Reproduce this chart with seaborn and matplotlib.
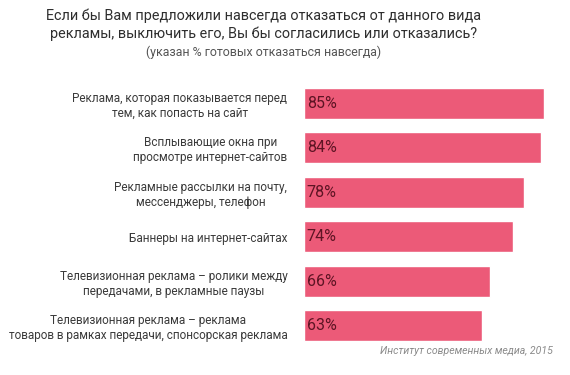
import matplotlib
matplotlib.use("Agg")
import matplotlib.pyplot as plt
import seaborn as sns
import pandas as pd

categories = [
    "Реклама, которая показывается перед\nтем, как попасть на сайт",
    "Всплывающие окна при\nпросмотре интернет-сайтов",
    "Рекламные рассылки на почту,\nмессенджеры, телефон",
    "Баннеры на интернет-сайтах",
    "Телевизионная реклама – ролики между\nпередачами, в рекламные паузы",
    "Телевизионная реклама – реклама\nтоваров в рамках передачи, спонсорская реклама",
]
values = [85, 84, 78, 74, 66, 63]
value_labels = ["85%", "84%", "78%", "74%", "66%", "63%"]

title_lines = [
    "Если бы Вам предложили навсегда отказаться от данного вида",
    "рекламы, выключить его, Вы бы согласились или отказались?",
]
subtitle = "(указан % готовых отказаться навсегда)"
source = "Институт современных медиа, 2015"

sns.set_theme(style="white")
plt.rcParams["font.family"] = ["Roboto", "DejaVu Sans"]

df = pd.DataFrame({"cat": categories, "val": values})

fig = plt.figure(figsize=(5.7, 3.75), dpi=100)
W, H = 570, 375
ax = fig.add_axes([304 / W, 1 - 348 / H, (550 - 304) / W, (348 - 81) / H])

sns.barplot(data=df, x="val", y="cat", orient="h", color="#EC5A78",
            saturation=1, width=0.70, ax=ax, order=categories)
ax.set_xlim(0, (550 - 304) / 2.824)
ax.set_ylim(5.5, -0.5)
ax.set_xlabel("")
ax.set_ylabel("")
ax.set_xticks([])
for s in ax.spines.values():
    s.set_visible(False)
ax.tick_params(axis="y", length=0, pad=12)
for lbl in ax.get_yticklabels():
    lbl.set_fontsize(8.5)
    lbl.set_color("#3a3a3a")
    lbl.set_multialignment("center")

for i, (v, t) in enumerate(zip(values, value_labels)):
    ax.text(1.0, i, t, va="center", ha="left", fontsize=11.5, color="#5e1424")

cx = 264 / W
fig.text(cx, 1 - 16 / H, title_lines[0], ha="center", va="center",
         fontsize=10.4, color="#2e2e2e")
fig.text(cx, 1 - 34 / H, title_lines[1], ha="center", va="center",
         fontsize=10.4, color="#2e2e2e")
fig.text(cx, 1 - 52 / H, subtitle, ha="center", va="center",
         fontsize=8.9, color="#555555")
fig.text(553 / W, 1 - 351 / H, source, ha="right", va="center",
         fontsize=7.6, color="#8a8a8a", style="italic")

fig.savefig("out.png", dpi=100, facecolor="white")
